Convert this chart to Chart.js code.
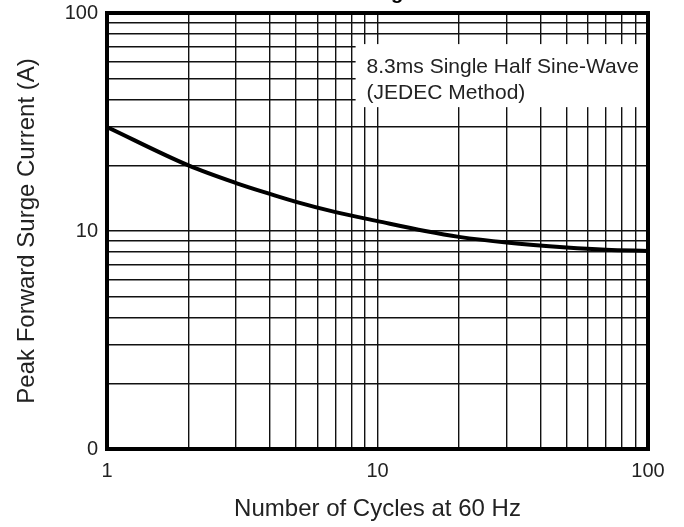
<!DOCTYPE html>
<html>
<head>
<meta charset="utf-8">
<script src="https://cdn.jsdelivr.net/npm/chart.js@4"></script>
<style>
  html, body { margin: 0; padding: 0; background: #fff; }
  canvas { display: block; }
</style>
</head>
<body>
<canvas id="c" width="684" height="527"></canvas>
<script>
// ---- data ----
const cycles = [1, 2, 3, 4, 5, 7, 10, 15, 20, 30, 50, 70, 100];
const surgeCurrent = [30, 20, 16.6, 14.8, 13.6, 12.2, 11.1, 10.0, 9.4, 8.85, 8.4, 8.2, 8.1];

const xTickValues = [1, 10, 100];
const xTickLabels = ["1", "10", "100"];
const yTickValues = [1, 10, 100];
const yTickLabels = ["0", "10", "100"];
const decadeSteps = [1, 2, 3, 4, 5, 6, 7, 8, 9];
const decades = [1, 10];

const titleText = "Maximum Forward Surge Current";
const xTitle = "Number of Cycles at 60 Hz";
const yTitle = "Peak Forward Surge Current (A)";
const noteLines = ["8.3ms Single Half Sine-Wave", "(JEDEC Method)"];
// note box extent in data units
const noteBox = { xMin: 8.3, xMax: 100, yMin: 37, yMax: 72 };

const FONT = "'Liberation Sans', Arial, sans-serif";
const TXT = "#222";

function gridTicks() {
  const t = [];
  decades.forEach(d => decadeSteps.forEach(s => t.push({ value: d * s })));
  t.push({ value: 100 });
  return t;
}
function labelFor(values, labels) {
  return function (v) {
    const i = values.indexOf(Number(v));
    return i >= 0 ? labels[i] : "";
  };
}

const bgPlugin = {
  id: "bg",
  beforeDraw(chart) {
    const ctx = chart.ctx;
    ctx.save();
    ctx.fillStyle = "#fff";
    ctx.fillRect(0, 0, chart.width, chart.height);
    ctx.restore();
  }
};

const notePlugin = {
  id: "note",
  beforeDatasetsDraw(chart) {
    const { ctx, scales: { x, y }, chartArea } = chart;
    const x0 = x.getPixelForValue(noteBox.xMin);
    const x1 = Math.min(x.getPixelForValue(noteBox.xMax), chartArea.right);
    const y0 = y.getPixelForValue(noteBox.yMax);
    const y1 = y.getPixelForValue(noteBox.yMin);
    ctx.save();
    ctx.fillStyle = "#fff";
    ctx.fillRect(x0, y0, x1 - x0, y1 - y0);
    ctx.fillStyle = TXT;
    ctx.font = "21px " + FONT;
    ctx.textBaseline = "alphabetic";
    ctx.textAlign = "left";
    noteLines.forEach((line, i) => ctx.fillText(line, x0 + 11, y0 + 29 + i * 26));
    ctx.restore();
  }
};

const framePlugin = {
  id: "frame",
  afterDraw(chart) {
    const { ctx, chartArea: a } = chart;
    ctx.save();
    ctx.strokeStyle = "#000";
    ctx.lineWidth = 4;
    ctx.strokeRect(a.left, a.top, a.right - a.left, a.bottom - a.top);
    // clipped chart title at the very top edge
    ctx.fillStyle = "#000";
    ctx.font = "bold 20px " + FONT;
    ctx.textBaseline = "alphabetic";
    ctx.textAlign = "left";
    const pre = ctx.measureText("Maximum Forward Sur").width;
    ctx.fillText(titleText, 391 - pre, -1);
    ctx.restore();
  }
};

new Chart(document.getElementById("c"), {
  type: "line",
  data: {
    datasets: [{
      data: cycles.map((c, i) => ({ x: c, y: surgeCurrent[i] })),
      borderColor: "#000",
      borderWidth: 4,
      pointRadius: 0,
      fill: false,
      cubicInterpolationMode: "monotone"
    }]
  },
  options: {
    responsive: false,
    animation: false,
    devicePixelRatio: 1,
    layout: { padding: { top: 13, right: 36, left: 0, bottom: 0 } },
    plugins: { legend: { display: false }, tooltip: { enabled: false } },
    scales: {
      x: {
        type: "logarithmic",
        min: 1, max: 100,
        afterBuildTicks(s) { s.ticks = gridTicks(); },
        afterFit(s) { s.height = 78; s.paddingLeft = 0; s.paddingRight = 0; },
        grid: { color: "#111", lineWidth: 1.4, drawTicks: false },
        border: { display: false },
        ticks: {
          autoSkip: false, maxRotation: 0, padding: 10,
          color: TXT, font: { family: FONT, size: 20 },
          callback: labelFor(xTickValues, xTickLabels)
        },
        title: {
          display: true, text: xTitle, color: TXT,
          font: { family: FONT, size: 24 }, padding: { top: 0, bottom: 3 }
        }
      },
      y: {
        type: "logarithmic",
        min: 1, max: 100,
        afterBuildTicks(s) { s.ticks = gridTicks(); },
        afterFit(s) { s.width = 107; s.paddingTop = 0; s.paddingBottom = 0; },
        grid: { color: "#111", lineWidth: 1.4, drawTicks: false },
        border: { display: false },
        ticks: {
          autoSkip: false, padding: 9,
          color: TXT, font: { family: FONT, size: 20 },
          callback: labelFor(yTickValues, yTickLabels)
        },
        title: {
          display: true, text: yTitle, color: TXT,
          font: { family: FONT, size: 24 }, padding: { top: 13, bottom: 0 }
        }
      }
    }
  },
  plugins: [bgPlugin, notePlugin, framePlugin]
});
</script>
</body>
</html>
